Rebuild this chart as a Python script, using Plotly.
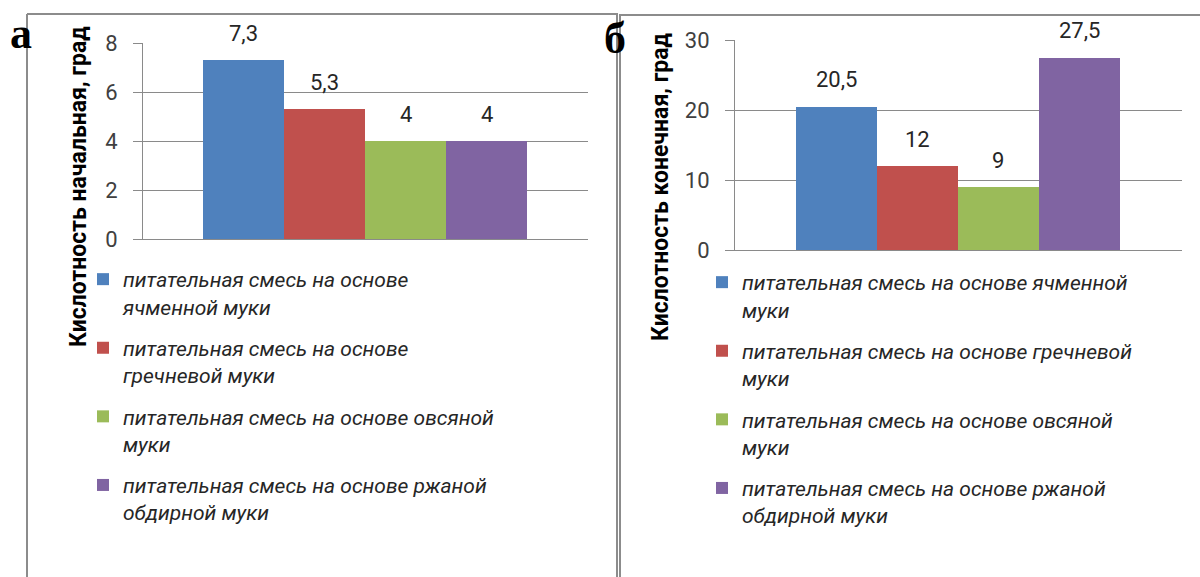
import plotly.graph_objects as go

# Flour base of each nutrient mix (one bar per mix)
flours = ["ячменная", "гречневая", "овсяная", "ржаная обдирная"]

# Legend captions, wrapped differently in the two panels
names_a = [
    "питательная смесь на основе<br>ячменной муки",
    "питательная смесь на основе<br>гречневой муки",
    "питательная смесь на основе овсяной<br>муки",
    "питательная смесь на основе ржаной<br>обдирной муки",
]
names_b = [
    "питательная смесь на основе ячменной<br>муки",
    "питательная смесь на основе гречневой<br>муки",
    "питательная смесь на основе овсяной<br>муки",
    "питательная смесь на основе ржаной<br>обдирной муки",
]

# Acidity, degrees
acid_initial = [7.3, 5.3, 4, 4]
acid_final = [20.5, 12, 9, 27.5]

ticks_a = [0, 2, 4, 6, 8]
ticks_b = [0, 10, 20, 30]

colors = ["#4F81BD", "#C0504D", "#9BBB59", "#8064A2"]

W, H = 1200, 577
BASE_FONT = "Roboto, Arial, sans-serif"
TEXT_DARK = "#262626"
GRID = "#8a8a8a"


def px_x(x):
    return x / W


def px_y(y):
    return 1 - y / H


def label(v):
    return f"{v:g}".replace(".", ",")


fig = go.Figure()

for i, (fl, nm, v, c) in enumerate(zip(flours, names_a, acid_initial, colors)):
    fig.add_trace(go.Bar(
        x=[fl], y=[v], name=nm, marker=dict(color=c, line=dict(width=0)),
        xaxis="x", yaxis="y", legend="legend", legendgroup=f"a{i}",
        hoverinfo="skip",
    ))
for i, (fl, nm, v, c) in enumerate(zip(flours, names_b, acid_final, colors)):
    fig.add_trace(go.Bar(
        x=[fl], y=[v], name=nm, marker=dict(color=c, line=dict(width=0)),
        xaxis="x2", yaxis="y2", legend="legend2", legendgroup=f"b{i}",
        hoverinfo="skip",
    ))

# Value labels above the bars
annotations = []
for xr, yr, vals in (("x", "y", acid_initial), ("x2", "y2", acid_final)):
    for fl, v in zip(flours, vals):
        annotations.append(dict(
            x=fl, y=v, xref=xr, yref=yr, text=label(v), showarrow=False,
            yanchor="bottom", yshift=12,
            font=dict(family=BASE_FONT, size=22, color=TEXT_DARK),
        ))

# Vertical axis titles
for xc, yc, txt in ((79, 186, "Кислотность начальная, град"),
                    (661, 187, "Кислотность конечная, град")):
    annotations.append(dict(
        x=px_x(xc), y=px_y(yc), xref="paper", yref="paper", text=f"<b>{txt}</b>",
        textangle=-90, showarrow=False, xanchor="center", yanchor="middle",
        font=dict(family=BASE_FONT, size=23, color="#000000"),
    ))

# Panel letters
for xl, yt, txt in ((8, 7, "а"), (602, 12, "б")):
    annotations.append(dict(
        x=px_x(xl), y=px_y(yt), xref="paper", yref="paper", text=f"<b>{txt}</b>",
        showarrow=False, xanchor="left", yanchor="top",
        font=dict(family="Liberation Serif, Times New Roman, serif", size=44, color="#000000"),
    ))

# Panel frames
frame = dict(type="line", xref="paper", yref="paper", line=dict(color="#8c8c8c", width=2))
shapes = [
    dict(frame, x0=px_x(27), x1=px_x(27), y0=px_y(14), y1=0),
    dict(frame, x0=px_x(27), x1=px_x(618), y0=px_y(14), y1=px_y(14)),
    dict(frame, x0=px_x(617), x1=px_x(617), y0=px_y(14), y1=0),
    dict(frame, x0=px_x(620), x1=px_x(620), y0=px_y(15), y1=0),
    dict(frame, x0=px_x(619), x1=1, y0=px_y(15), y1=px_y(15)),
]

yaxis_common = dict(
    showgrid=True, gridcolor=GRID, gridwidth=1,
    showline=True, linecolor=GRID, linewidth=1,
    ticks="outside", ticklen=9, tickcolor=GRID,
    tickfont=dict(family=BASE_FONT, size=22, color="#404040"),
    zeroline=False, fixedrange=True,
)
xaxis_common = dict(
    showticklabels=False, showgrid=False, zeroline=False,
    showline=True, linecolor=GRID, linewidth=1, ticks="", fixedrange=True,
)

legend_common = dict(
    font=dict(family=BASE_FONT, size=21, color=TEXT_DARK, style="italic"),
    valign="top", tracegroupgap=11, bgcolor="rgba(0,0,0,0)",
    xanchor="left", yanchor="top", itemclick=False, itemdoubleclick=False,
)

fig.update_layout(
    width=W, height=H, margin=dict(l=0, r=0, t=0, b=0, autoexpand=False),
    paper_bgcolor="white", plot_bgcolor="white",
    barmode="overlay", bargap=0,
    showlegend=True,
    xaxis=dict(xaxis_common, domain=[px_x(143), px_x(588)], range=[-1.241, 4.253],
               anchor="y"),
    yaxis=dict(yaxis_common, domain=[px_y(239), px_y(43)], range=[0, 8],
               tickvals=ticks_a, ticklabelstandoff=11, anchor="x"),
    xaxis2=dict(xaxis_common, domain=[px_x(735), px_x(1182)], range=[-1.253, 4.266],
                anchor="y2"),
    yaxis2=dict(yaxis_common, domain=[px_y(250), px_y(40)], range=[0, 30],
                tickvals=ticks_b, ticklabelstandoff=11, anchor="x2"),
    legend=dict(legend_common, x=px_x(83), y=px_y(259)),
    legend2=dict(legend_common, x=px_x(702), y=px_y(262)),
    annotations=annotations,
    shapes=shapes,
)

fig.write_html("out.html", config={"displayModeBar": False})
